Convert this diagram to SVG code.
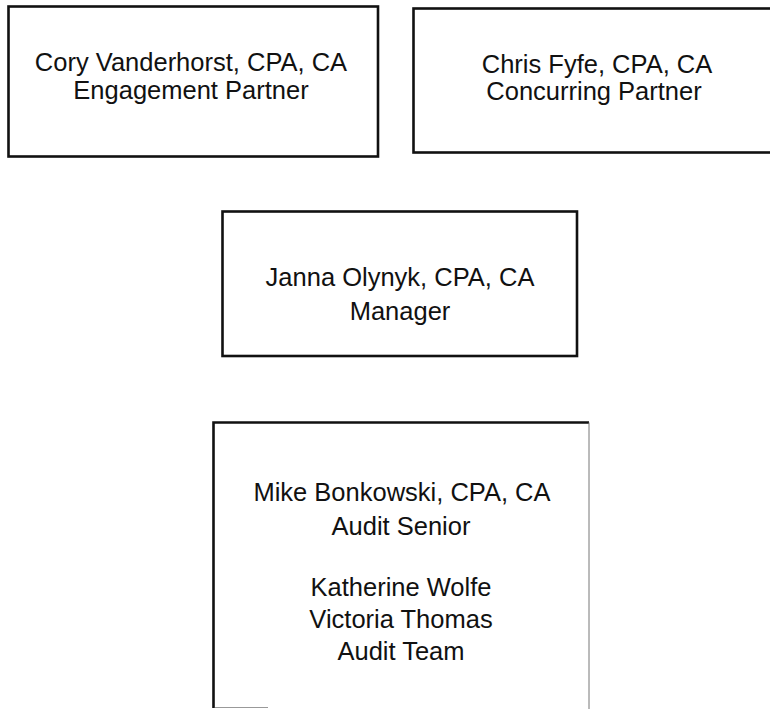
<svg xmlns="http://www.w3.org/2000/svg" width="770" height="709" viewBox="0 0 770 709">
<style>
.box{fill:#fff;stroke:#111;stroke-width:2.6}
.t{font-family:"Liberation Sans",Arial,sans-serif;font-size:25.5px;fill:#111;text-anchor:middle}
</style>
<rect width="770" height="709" fill="#fff"/>
<g id="connectors"></g>
<g id="node-cory">
<rect class="box" x="8.5" y="6.5" width="369.5" height="150"/>
<text class="t" x="191" y="71">Cory Vanderhorst, CPA, CA</text>
<text class="t" x="191" y="99">Engagement Partner</text>
</g>
<g id="node-chris">
<rect class="box" x="413.5" y="8.5" width="360" height="144"/>
<text class="t" x="597" y="73">Chris Fyfe, CPA, CA</text>
<text class="t" x="594" y="100">Concurring Partner</text>
</g>
<g id="node-janna">
<rect class="box" x="222.5" y="211.5" width="354.5" height="144.5"/>
<text class="t" x="400" y="286">Janna Olynyk, CPA, CA</text>
<text class="t" x="400" y="320">Manager</text>
</g>
<g id="node-audit">
<path d="M213.5 708 V422.5 H589" fill="none" stroke="#111" stroke-width="2.6"/>
<path d="M589 422.5 V709" fill="none" stroke="#777" stroke-width="1"/>
<path d="M215 707.5 H268" fill="none" stroke="#999" stroke-width="1.2"/>
<text class="t" x="402" y="501">Mike Bonkowski, CPA, CA</text>
<text class="t" x="401" y="535">Audit Senior</text>
<text class="t" x="401" y="596">Katherine Wolfe</text>
<text class="t" x="401" y="628">Victoria Thomas</text>
<text class="t" x="401" y="660">Audit Team</text>
</g>
</svg>
